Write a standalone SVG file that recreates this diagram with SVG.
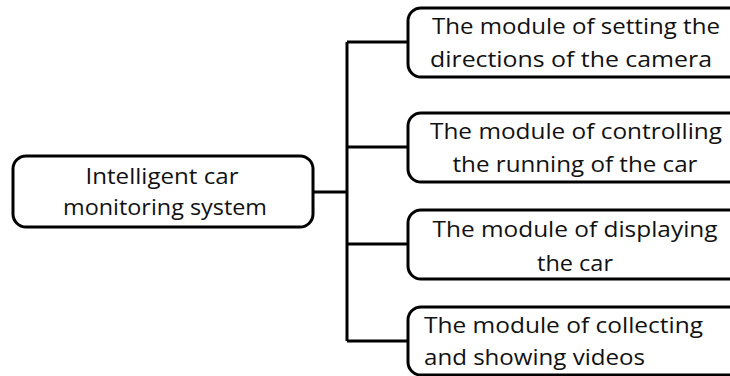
<svg xmlns="http://www.w3.org/2000/svg" width="730" height="376" viewBox="0 0 730 376">
<style>
.box{fill:#fff;stroke:#000;stroke-width:3}
.wire{fill:none;stroke:#000;stroke-width:3}
text{font-family:"Open Sans","Liberation Sans",sans-serif;font-size:22px;fill:#111}
.c{text-anchor:middle}
</style>
<rect width="730" height="376" fill="#fff"/>
<g id="connectors">
<path class="wire" d="M313 192H347M347 42V341M347 42H408M347 147H408M347 244H408M347 341H408"/>
</g>
<g id="root">
<rect class="box" x="13" y="156" width="300" height="71" rx="13"/>
<text class="c" x="162" y="184" textLength="153" lengthAdjust="spacingAndGlyphs">Intelligent car</text>
<text class="c" x="165" y="215" textLength="204" lengthAdjust="spacingAndGlyphs">monitoring system</text>
</g>
<g id="m1">
<rect class="box" x="408" y="8" width="340" height="69" rx="13"/>
<text class="c" x="576" y="34" textLength="288" lengthAdjust="spacingAndGlyphs">The module of setting the</text>
<text class="c" x="571" y="67" textLength="282" lengthAdjust="spacingAndGlyphs">directions of the camera</text>
</g>
<g id="m2">
<rect class="box" x="408" y="113" width="340" height="69" rx="13"/>
<text class="c" x="576" y="139" textLength="292" lengthAdjust="spacingAndGlyphs">The module of controlling</text>
<text class="c" x="575" y="172" textLength="245" lengthAdjust="spacingAndGlyphs">the running of the car</text>
</g>
<g id="m3">
<rect class="box" x="408" y="210" width="340" height="69" rx="13"/>
<text class="c" x="575" y="237" textLength="285" lengthAdjust="spacingAndGlyphs">The module of displaying</text>
<text class="c" x="575" y="271" textLength="76" lengthAdjust="spacingAndGlyphs">the car</text>
</g>
<g id="m4">
<rect class="box" x="408" y="307" width="340" height="68" rx="13"/>
<text x="424" y="333" textLength="279" lengthAdjust="spacingAndGlyphs">The module of collecting</text>
<text x="424" y="365" textLength="221" lengthAdjust="spacingAndGlyphs">and showing videos</text>
</g>
</svg>
